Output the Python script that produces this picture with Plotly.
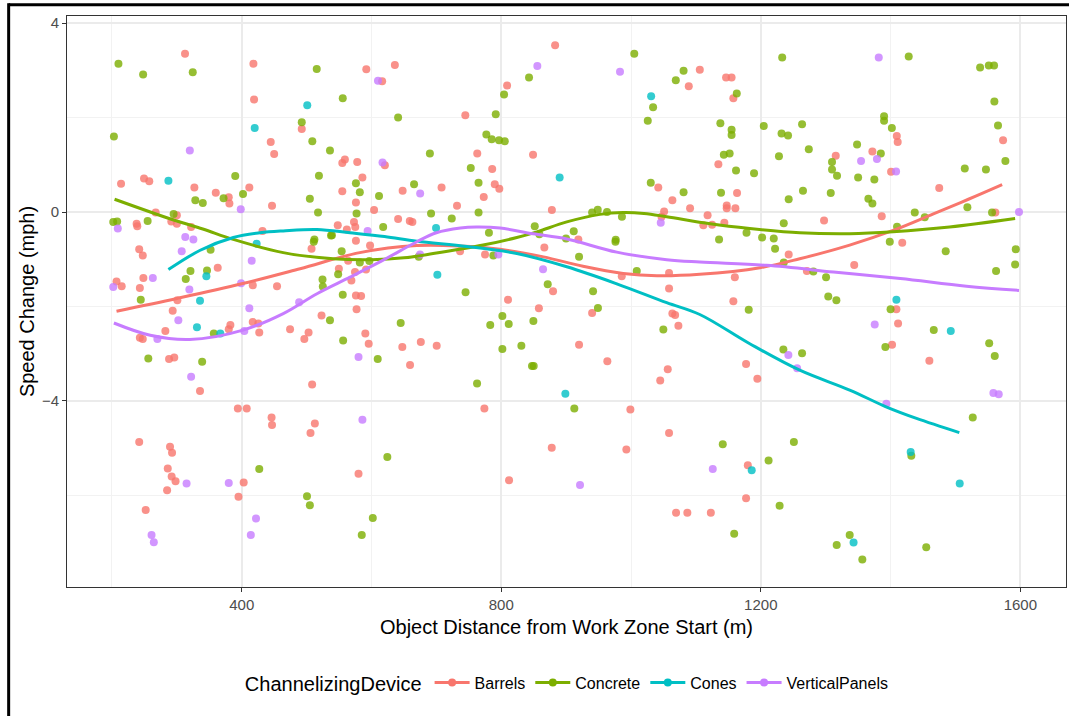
import plotly.graph_objects as go

# Observed speed change (mph) against object distance from work zone start (m)
barrels = [
    (312.6, 3.35), (418, 3.14), (419, 2.38), (492.5, 1.76), (444.7, 1.48), (450, 1.23),
    (555, 1.04), (559, 1.11), (578, 1.06), (214, 0.60), (249.4, 0.71), (257.5, 0.65),
    (327, 0.52), (411.7, 0.52), (555, 0.44), (360, 0.41), (381, 0.18), (380, 0.31),
    (576, 0.20), (446.7, 0.13), (267.4, -0.01), (238, -0.25), (239, -0.30), (291.5, -0.20),
    (300, -0.25), (300, -0.07), (322, -0.32), (432, -0.40), (548, -0.28), (562, -0.37),
    (573, -0.21), (575, -0.32), (242, -0.79), (247.5, -0.92), (363, -1.18), (207, -1.47),
    (215, -1.57), (248.4, -1.40), (243, -1.61), (300.8, -1.87), (293.6, -2.09), (282.3, -2.52),
    (243, -2.66), (247.5, -2.69), (380, -2.48), (382.5, -2.39), (417, -2.33), (425.6, -2.36),
    (427, -2.55), (417, -1.55), (454.4, -1.57), (288, -3.11), (296, -3.08), (335.7, -3.79),
    (394, -4.16), (407.7, -4.16), (446, -4.35), (446.7, -4.51), (242, -4.87), (289.5, -4.97),
    (292.6, -5.10), (286, -5.43), (474.5, -2.48), (496.5, -2.69), (503, -2.55), (508.5, -3.65),
    (512.7, -4.48), (506, -4.68), (523, -2.19), (549.7, -1.20), (569, -1.45), (576, -1.77),
    (577, -2.06), (507.6, -0.78), (564, -1.03), (292, -5.60), (298, -5.70), (285, -5.89),
    (252, -6.31), (403, -5.73), (395, -6.03), (580, -5.54), (592, 3.02), (616.4, 2.77),
    (636, 3.11), (744.6, 2.05), (620.6, 0.99), (586, 0.73), (604, 0.04), (648, 0.45),
    (708, 0.52), (641, -0.15), (659, -0.19), (663, -0.21), (731.8, 0.13), (763, 1.24),
    (786, 0.91), (790, 0.59), (797, 0.49), (773, 0.32), (809, 2.68), (883, 3.53),
    (849, 1.21), (878, 0.04), (918.8, -0.58), (1089, 2.66), (1106, 3.01), (1042, 0.52),
    (1063.7, 0.25), (1051, 0.01), (1091, 0.08), (1047, -0.10), (1111.5, -0.28), (1118, -0.07),
    (576, -0.61), (597.8, -0.71), (574.6, -1.27), (591.6, -1.22), (584, -1.78), (736.5, -0.83),
    (775, -0.90), (810.4, -1.86), (858, -2.04), (590.5, -2.57), (595.7, -2.79), (647.5, -2.86),
    (676, -2.75), (700.5, -2.83), (659.4, -3.24), (774, -4.16), (877.8, -4.99), (992.8, -5.03),
    (999, -4.18), (1058.6, -4.68), (1045, -3.57), (1056.6, -3.33), (879.8, -1.68), (866.4, -0.75),
    (919.9, -2.81), (940, -2.14), (963.5, -3.16), (985.7, -1.36), (1058.6, -1.29), (1058.6, -1.62),
    (1063.7, -2.15), (1068, -2.18), (1073, -2.41), (812, -5.68), (1069.4, -6.37), (1086.8, -6.37),
    (1123, -6.37), (1146.5, 2.85), (1155, 2.85), (1157.7, 2.41), (1409.6, 1.61), (1411, 1.48),
    (1573.4, 1.52), (1134.6, 1.01), (1315.5, 1.19), (1372, 1.28), (1400.8, 0.85), (1475, 0.51),
    (1163.4, 0.40), (1147.5, 0.14), (1147.5, 0.08), (1160.8, 0.08), (1386.4, -0.09), (1297.5, -0.18),
    (1561.5, -0.01), (1143.8, -0.23), (1125, -0.27), (1243, -0.90), (1160, -1.38), (1157.7, -1.89),
    (1271, -1.25), (1344, -1.12), (1418, -0.65), (1409, -2.06), (1411.6, -2.36), (1402.3, -2.81),
    (1459.8, -3.15), (1177.3, -3.22), (1194.7, -3.53), (1180, -5.36), (1177.3, -6.06),
]

concrete = [
    (210, 3.14), (248, 2.91), (324.5, 2.96), (515.6, 3.03), (555.7, 2.41), (203, 1.60),
    (492.5, 1.90), (508.8, 1.50), (536, 1.30), (390, 0.76), (519, 0.77), (576, 0.61),
    (328.5, 0.25), (340, 0.19), (372, 0.29), (402, 0.38), (505, 0.28), (517.6, -0.01),
    (577, -0.03), (202, -0.21), (208, -0.20), (255, -0.19), (295, -0.04), (512, -0.58),
    (539, -0.49), (352, -0.80), (321, -1.25), (346.5, -1.24), (313.7, -1.42), (244.4, -1.86),
    (357, -2.57), (256, -3.10), (339, -3.17), (427, -5.44), (536, -2.29), (556.3, -2.72),
    (555.7, -1.75), (524.5, -1.43), (525, -1.58), (548.6, -1.32), (511, -0.63), (537.6, -0.50),
    (554, -0.83), (500.6, -6.02), (505, -6.21), (585, -6.84), (641, 2.00), (690, 1.24),
    (582, 0.42), (611.6, 0.34), (665.6, 0.59), (691.8, -0.03), (618, -0.32), (723.7, -0.14),
    (753, 0.93), (765, 0.62), (765, -0.01), (777, 1.64), (785.3, 1.54), (796.6, 1.52),
    (805.4, 1.50), (791.5, 2.07), (804.3, 2.49), (842.8, 2.85), (781, -0.44), (851.6, -0.30),
    (858.7, -0.47), (899.8, -0.56), (911.7, -0.41), (940, -0.01), (948.7, 0.05), (963, 0.00),
    (976.4, -0.59), (986, -0.10), (1005, 3.35), (1069, 2.79), (1081, 2.99), (1034, 2.22),
    (1025.8, 1.93), (1030.4, 0.62), (1081, 0.42), (582, -1.07), (596.7, -1.04), (672.8, -0.95),
    (787.8, -0.92), (745, -1.70), (801.7, -2.20), (783, -2.39), (811.5, -2.37), (849.5, -2.31),
    (645, -2.35), (609.6, -3.11), (801.7, -2.90), (831, -2.83), (847.4, -3.26), (850, -3.26),
    (762.7, -3.63), (912.6, -4.16), (624.4, -5.19), (871.6, -1.53), (919.9, -0.95), (941.5, -1.68),
    (949, -2.03), (976, -0.63), (1008.8, -1.25), (1049.8, -2.49), (602, -6.48), (1163, 2.51),
    (1233, 3.27), (1428, 3.29), (1538, 3.06), (1551.4, 3.10), (1559.5, 3.10), (1560, 2.34),
    (1137.7, 1.88), (1155, 1.74), (1155, 1.63), (1204.6, 1.82), (1232, 1.66), (1242, 1.62),
    (1263.6, 1.86), (1390, 2.03), (1390, 1.93), (1402, 1.78), (1565.6, 1.83), (1577, 1.08),
    (1143, 1.21), (1152, 1.24), (1161.8, 0.88), (1189.6, 0.82), (1228, 1.18), (1274, 1.33),
    (1309.8, 1.06), (1309.8, 0.90), (1317.5, 0.77), (1348.4, 1.43), (1385, 1.24), (1350, 0.73),
    (1375, 0.69), (1514.4, 0.92), (1547, 0.90), (1138.7, 0.41), (1243, 0.27), (1265, 0.45),
    (1307.8, 0.40), (1365.8, 0.28), (1372, 0.18), (1410, -0.31), (1235.4, -0.24), (1437.3, -0.01),
    (1452.7, -0.11), (1518.4, 0.10), (1556.4, -0.01), (1178, -0.44), (1202, -0.54), (1220, -0.56),
    (1135.7, -0.58), (1222, -0.78), (1235.4, -1.07), (1181.4, -2.07), (1281, -1.26), (1300.6, -1.38),
    (1304, -1.79), (1316.5, -1.87), (1398.8, -0.63), (1485, -0.83), (1593, -0.79), (1592, -1.11),
    (1562.6, -1.25), (1400, -2.06), (1466.6, -2.50), (1392, -2.86), (1552, -2.78), (1560.6, -3.05),
    (1234.8, -2.91), (1263.6, -2.99), (1526.7, -4.35), (1141.4, -4.92), (1251, -4.87), (1432, -5.16),
    (1212, -5.26), (1229, -6.22), (1159, -6.81), (1317, -7.05), (1337, -6.84), (1356.5, -7.36),
    (1455, -7.10),
]

cones = [
    (287, 0.66), (501, 2.26), (420, 1.78), (423, -0.67), (345.5, -1.36), (335.7, -1.88),
    (331, -2.44), (367, -2.57), (699.5, -0.34), (890, 0.73), (1031, 2.45), (701.5, -1.33),
    (898.8, -3.85), (1409, -1.86), (1492.8, -2.52), (1431, -5.08), (1186, -5.47), (1343, -7.0),
    (1506.6, -5.75),
]

vertical_panels = [
    (320, 1.30), (398.5, 0.06), (209, -0.35), (313, -0.53), (325.5, -0.58), (307.5, -0.83),
    (415.4, -1.03), (202, -1.59), (263, -1.40), (319.3, -1.64), (302.3, -2.29), (270, -2.69),
    (404, -2.52), (411.7, -2.04), (399, -1.51), (322, -3.49), (488.5, -1.91), (580, -3.07),
    (315, -5.75), (261, -6.84), (264.5, -6.99), (380, -5.74), (422, -6.49), (414, -6.84),
    (610, 2.78), (617, 1.05), (675, 0.39), (594, -0.40), (855.6, 3.09), (983, 2.97),
    (1045.8, -0.23), (674.8, -0.90), (795.5, -0.90), (586, -4.40), (864.4, -1.21), (921.4, -5.78),
    (1381.8, 3.27), (1354.5, 1.08), (1379, 1.12), (1408.5, 0.86), (1598, 0.00), (1375.6, -2.38),
    (1558.5, -3.83), (1566.7, -3.86), (1242.5, -3.03), (1256, -3.31), (1393.5, -4.06), (1126, -5.44),
]

# Smoothed trend per device type (distance, fitted speed change)
barrels_fit = [
    (207, -2.10), (300, -1.83), (400, -1.52), (490, -1.20), (582, -0.86), (670, -0.71),
    (736, -0.72), (798, -0.79), (865, -0.95), (926, -1.15), (988, -1.30), (1040, -1.35),
    (1106, -1.32), (1199, -1.18), (1260, -0.99), (1337, -0.70), (1404, -0.39), (1466, -0.04),
    (1520, 0.27), (1572, 0.58),
]
concrete_fit = [
    (204, 0.27), (295, -0.17), (340, -0.36), (387, -0.58), (464, -0.86), (541, -0.99),
    (600, -1.01), (650, -0.97), (695, -0.88), (772, -0.70), (824, -0.54), (855, -0.42),
    (901, -0.21), (952, -0.05), (988, -0.01), (1020, -0.03), (1055, -0.10), (1122, -0.25),
    (1183, -0.35), (1260, -0.44), (1337, -0.46), (1404, -0.42), (1491, -0.32), (1592, -0.14),
]
cones_fit = [
    (287, -1.22), (336, -0.81), (387, -0.54), (428, -0.44), (464, -0.40), (516, -0.37),
    (567, -0.44), (620, -0.52), (670, -0.62), (747, -0.73), (824, -0.88), (901, -1.16),
    (978, -1.52), (1055, -1.92), (1106, -2.17), (1183, -2.79), (1260, -3.35), (1337, -3.77),
    (1394, -4.13), (1440, -4.37), (1506, -4.67),
]
vertical_panels_fit = [
    (203, -2.35), (259, -2.61), (320, -2.70), (402, -2.50), (464, -2.15), (516, -1.73),
    (567, -1.38), (618, -1.02), (670, -0.63), (700, -0.44), (737, -0.34), (762, -0.32),
    (798, -0.34), (849, -0.46), (901, -0.57), (978, -0.85), (1055, -1.01), (1106, -1.06),
    (1209, -1.13), (1312, -1.27), (1415, -1.41), (1517, -1.57), (1598, -1.66),
]

devices = ["Barrels", "Concrete", "Cones", "VerticalPanels"]
colors = ["#F8766D", "#7CAE00", "#00BFC4", "#C77CFF"]
points = [barrels, concrete, cones, vertical_panels]
fits = [barrels_fit, concrete_fit, cones_fit, vertical_panels_fit]

fig = go.Figure()

for name, col, pts in zip(devices, colors, points):
    xs, ys = zip(*pts)
    fig.add_trace(go.Scatter(
        x=xs, y=ys, mode="markers", name=name, legendgroup=name, showlegend=False,
        marker=dict(size=8, color=col, opacity=0.8, line=dict(width=0)),
    ))

for name, col, fit in zip(devices, colors, fits):
    xs, ys = zip(*fit)
    fig.add_trace(go.Scatter(
        x=xs, y=ys, mode="lines", name=name, legendgroup=name, showlegend=False,
        line=dict(color=col, width=3, shape="spline", smoothing=1),
    ))

# legend keys: line with a point, as in the combined layers
for name, col in zip(devices, colors):
    fig.add_trace(go.Scatter(
        x=[None], y=[None], mode="lines+markers", name=name, legendgroup=name,
        line=dict(color=col, width=3), marker=dict(size=8, color=col),
    ))

font_family = "Liberation Sans, Arial, sans-serif"

axis_common = dict(
    showline=True, mirror=True, linecolor="#333333", linewidth=1,
    ticks="outside", ticklen=4, tickwidth=1, tickcolor="#333333",
    showgrid=True, gridcolor="#EBEBEB", gridwidth=1.5, zeroline=False,
    tickfont=dict(family=font_family, size=15, color="#4D4D4D"),
)

fig.update_layout(
    width=1069, height=716, autosize=False,
    margin=dict(l=67, r=3, t=16, b=129),
    paper_bgcolor="white", plot_bgcolor="white",
    font=dict(family=font_family, color="black"),
    xaxis=dict(
        **axis_common, range=[130.7, 1670.4], tick0=0, dtick=400,
        minor=dict(dtick=200, showgrid=True, gridcolor="#F2F2F2", gridwidth=1, ticks=""),
        title=dict(text="Object Distance from Work Zone Start (m)",
                   font=dict(family=font_family, size=20, color="black"), standoff=7),
    ),
    yaxis=dict(
        **axis_common, range=[-7.94, 4.15], tick0=0, dtick=4,
        minor=dict(dtick=2, showgrid=True, gridcolor="#F2F2F2", gridwidth=1, ticks=""),
        title=dict(text="Speed Change (mph)",
                   font=dict(family=font_family, size=20, color="black"), standoff=1),
    ),
    legend=dict(
        orientation="h", x=0.176, xanchor="left", y=-0.169, yanchor="middle",
        title=dict(text="ChannelizingDevice", side="left",
                   font=dict(family=font_family, size=20, color="black")),
        font=dict(family=font_family, size=16, color="black"),
        bgcolor="rgba(0,0,0,0)", itemwidth=35,
    ),
    shapes=[
        dict(type="line", xref="paper", yref="paper", x0=-0.0584, x1=1.01, y0=1.0198, y1=1.0198,
             line=dict(color="black", width=3)),
        dict(type="line", xref="paper", yref="paper", x0=-0.0584, x1=-0.0584, y0=1.0224, y1=-0.25,
             line=dict(color="black", width=3)),
    ],
)

fig.write_html("out.html")
